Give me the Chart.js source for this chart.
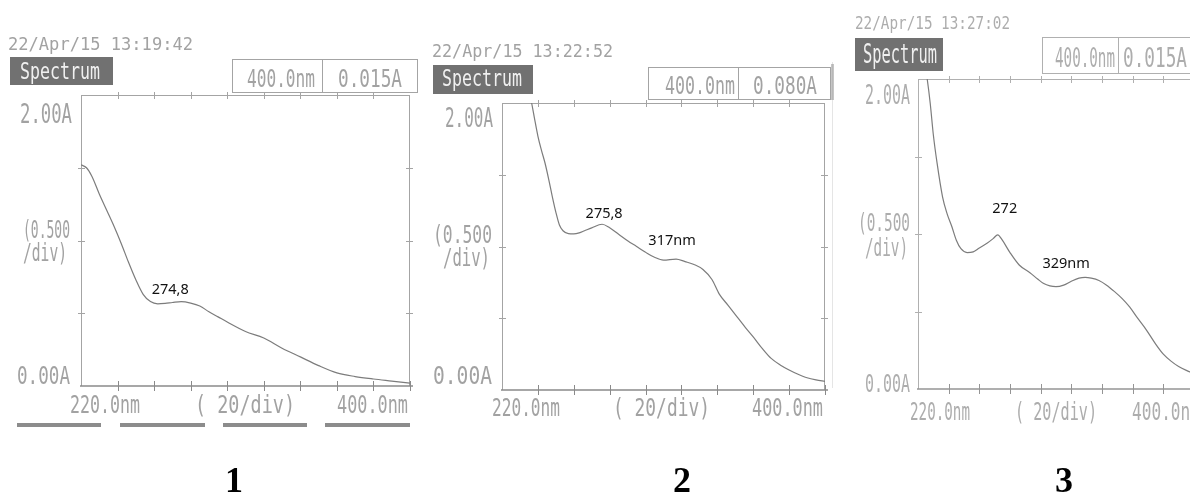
<!DOCTYPE html>
<html>
<head>
<meta charset="utf-8">
<script src="https://cdn.jsdelivr.net/npm/chart.js@4.4.1/dist/chart.umd.min.js"></script>
<style>
  html, body { margin: 0; padding: 0; background: #fff; width: 1190px; height: 493px; overflow: hidden; }
  canvas { position: absolute; left: 0; top: 0; }
</style>
</head>
<body>
<canvas id="c1" width="1200" height="493"></canvas>
<canvas id="c2" width="1200" height="493"></canvas>
<canvas id="c3" width="1200" height="493"></canvas>
<script>
// ---- UV-Vis absorption spectra, 220-400 nm ----

// Sample 1
const wavelength1 = [220, 223, 226, 230, 234, 238, 242, 246, 250, 254, 258, 262, 266, 270, 274.8, 280, 285, 290, 295, 300, 310, 320, 330, 340, 350, 360, 370, 380, 390, 400];
const absorbance1 = [1.52, 1.50, 1.44, 1.32, 1.21, 1.10, 0.98, 0.85, 0.73, 0.63, 0.58, 0.565, 0.568, 0.574, 0.58, 0.57, 0.55, 0.51, 0.475, 0.44, 0.375, 0.33, 0.26, 0.20, 0.14, 0.09, 0.065, 0.048, 0.034, 0.02];

// Sample 2
const wavelength2 = [235, 236.5, 238, 240, 242, 244, 246, 248, 250, 252, 254, 257, 260, 263, 266, 270, 275.8, 280, 285, 290, 295, 300, 305, 310, 317, 322, 327, 332, 337, 341, 346, 351, 356, 360, 365, 370, 375, 380, 385, 390, 395, 400];
const absorbance2 = [2.08, 2.0, 1.9, 1.77, 1.67, 1.58, 1.47, 1.35, 1.24, 1.15, 1.11, 1.09, 1.088, 1.095, 1.11, 1.13, 1.155, 1.13, 1.085, 1.04, 1.0, 0.96, 0.925, 0.905, 0.912, 0.895, 0.875, 0.84, 0.77, 0.67, 0.59, 0.51, 0.43, 0.37, 0.29, 0.22, 0.175, 0.14, 0.11, 0.085, 0.07, 0.06];

// Sample 3
const wavelength3 = [224, 226, 228, 230, 232.4, 236, 239, 242, 245, 248, 252, 256, 260, 265, 269, 272, 275, 280, 286, 293, 298, 302, 306, 310, 315, 320, 325, 329, 333, 338, 343, 348, 353, 358, 363, 369, 375, 380, 385, 390, 395, 400];
const absorbance3 = [2.12, 2.0, 1.84, 1.64, 1.46, 1.24, 1.13, 1.05, 0.96, 0.905, 0.88, 0.885, 0.91, 0.94, 0.97, 0.995, 0.96, 0.88, 0.80, 0.75, 0.71, 0.68, 0.665, 0.66, 0.67, 0.695, 0.715, 0.72, 0.715, 0.70, 0.67, 0.63, 0.585, 0.53, 0.46, 0.38, 0.29, 0.225, 0.18, 0.145, 0.12, 0.10];

// Marked peak wavelengths and their labels
const peaksNm1 = [274.8];
const peakLabels1 = ['274,8'];
const peaksNm2 = [275.8, 317];
const peakLabels2 = ['275,8', '317nm'];
const peaksNm3 = [272, 329];
const peakLabels3 = ['272', '329nm'];

// Axis divisions
const xDivisionsNm = [240, 260, 280, 300, 320, 340, 360, 380, 400];
const yDivisionsA = [0.5, 1.0, 1.5];

// Printed header / axis texts
const timeStamps = ['22/Apr/15 13:19:42', '22/Apr/15 13:22:52', '22/Apr/15 13:27:02'];
const modeTitle = 'Spectrum';
const cursorNm = ['400.0nm', '400.0nm', '400.0nm'];
const cursorAbs = ['0.015A', '0.080A', '0.015A'];
const yTopLabel = '2.00A';
const yBottomLabel = '0.00A';
const yScaleLabel = ['(0.500', '/div)'];
const xStartLabel = '220.0nm';
const xScaleLabel = '( 20/div)';
const xEndLabel = '400.0nm';
const panelCaptions = ['1', '2', '3'];

// Page layout of each printout
const layouts = {
  c1: {
    area: { left: 81, top: 95, right: 410, bottom: 386 },
    ink: '#a2a2a2', frame: '#a4a4a4', axis: '#8a8a8a', rightBorder: true,
    date: { x0: 8, x1: 193, base: 50, size: 16 },
    specBox: { x: 10, y: 57, w: 103, h: 28 }, specText: { x0: 20, x1: 100, base: 79, size: 20 },
    valBox: { x: 232, y: 59, w: 185, h: 33, div: 322 },
    nmText: { x0: 247, x1: 315, base: 87, size: 22 }, absText: { x0: 338, x1: 402, base: 87, size: 22 },
    yTop: { x0: 20, x1: 72, base: 123 }, yDiv1: { x0: 23, x1: 70, base: 238 }, yDiv2: { x0: 23, x1: 67, base: 261 },
    yZero: { x0: 17, x1: 70, base: 384 },
    xLeft: { x0: 70, x1: 140, base: 413 }, xDiv: { x0: 195, x1: 295, base: 413 }, xRight: { x0: 337, x1: 408, base: 413 },
    bars: [[17, 101], [120, 205], [223, 307], [325, 410]], barY: 423,
    notes: [{ dx: -11, dy: -12 }],
    caption: { x: 234, base: 492 }
  },
  c2: {
    area: { left: 502, top: 103, right: 825, bottom: 390 },
    ink: '#a2a2a2', frame: '#a4a4a4', axis: '#8a8a8a', rightBorder: true,
    date: { x0: 432, x1: 613, base: 57, size: 16 },
    specBox: { x: 433, y: 65, w: 100, h: 29 }, specText: { x0: 442, x1: 522, base: 86, size: 20 },
    valBox: { x: 648, y: 67, w: 182, h: 32, div: 738 },
    nmText: { x0: 665, x1: 735, base: 94, size: 22 }, absText: { x0: 753, x1: 817, base: 94, size: 22 },
    yTop: { x0: 445, x1: 493, base: 127 }, yDiv1: { x0: 433, x1: 492, base: 243 }, yDiv2: { x0: 443, x1: 490, base: 266 },
    yZero: { x0: 433, x1: 492, base: 384 },
    xLeft: { x0: 492, x1: 560, base: 416 }, xDiv: { x0: 613, x1: 710, base: 416 }, xRight: { x0: 752, x1: 823, base: 416 },
    bars: [], barY: 0,
    notes: [{ dx: 2, dy: -10 }, { dx: -4, dy: -18 }],
    caption: { x: 682, base: 492 }
  },
  c3: {
    area: { left: 918, top: 79, right: 1194, bottom: 389 },
    ink: '#adadad', frame: '#b0b0b0', axis: '#959595', rightBorder: false,
    date: { x0: 855, x1: 1010, base: 29, size: 16 },
    specBox: { x: 855, y: 38, w: 88, h: 33 }, specText: { x0: 863, x1: 937, base: 63, size: 23 },
    valBox: { x: 1042, y: 37, w: 170, h: 36, div: 1118 },
    nmText: { x0: 1055, x1: 1115, base: 67, size: 23 }, absText: { x0: 1123, x1: 1187, base: 67, size: 23 },
    yTop: { x0: 865, x1: 910, base: 104 }, yDiv1: { x0: 858, x1: 910, base: 231 }, yDiv2: { x0: 865, x1: 908, base: 256 },
    yZero: { x0: 865, x1: 910, base: 392 },
    xLeft: { x0: 910, x1: 970, base: 420 }, xDiv: { x0: 1015, x1: 1097, base: 420 }, xRight: { x0: 1132, x1: 1200, base: 420 },
    bars: [], barY: 0,
    notes: [{ dx: 7, dy: -26 }, { dx: -19, dy: -14 }],
    caption: { x: 1064, base: 492 },
    edge: { x: 832, y0: 62, y1: 388 }
  }
};

const MONO = '"DejaVu Sans Mono", "Liberation Mono", monospace';

// Printer-style text: fitted horizontally to x0..x1 and stretched vertically
function fitText(ctx, text, spec, size, color, stretchY) {
  ctx.save();
  ctx.font = size + 'px ' + MONO;
  ctx.fillStyle = color;
  ctx.textBaseline = 'alphabetic';
  ctx.textAlign = 'left';
  const w = ctx.measureText(text).width;
  ctx.translate(spec.x0, spec.base);
  ctx.scale((spec.x1 - spec.x0) / w, stretchY || 1);
  ctx.fillText(text, 0, 0);
  ctx.restore();
}

function seg(ctx, x0, y0, x1, y1) {
  ctx.beginPath();
  ctx.moveTo(x0, y0);
  ctx.lineTo(x1, y1);
  ctx.stroke();
}

const printoutPlugin = {
  id: 'printout',
  beforeDatasetsDraw(chart) {
    const L = layouts[chart.canvas.id];
    const ctx = chart.ctx;
    const { left, right, top, bottom } = chart.chartArea;
    const xs = chart.scales.x, ys = chart.scales.y;
    ctx.save();
    ctx.lineWidth = 1;
    ctx.strokeStyle = L.frame;
    // frame
    seg(ctx, left, top + 0.5, right, top + 0.5);
    seg(ctx, left + 0.5, top, left + 0.5, bottom);
    if (L.rightBorder) seg(ctx, right - 0.5, top, right - 0.5, bottom);
    // division marks on top edge
    xDivisionsNm.forEach(nm => {
      const x = Math.round(xs.getPixelForValue(nm)) + 0.5;
      if (nm < 400) seg(ctx, x, top - 3, x, top + 4);
    });
    // division marks on vertical edges
    yDivisionsA.forEach(a => {
      const y = Math.round(ys.getPixelForValue(a)) + 0.5;
      seg(ctx, left - 3, y, left + 4, y);
      if (L.rightBorder) seg(ctx, right - 4, y, right + 3, y);
    });
    // baseline axis with crossing marks
    ctx.strokeStyle = L.axis;
    ctx.lineWidth = 1.6;
    seg(ctx, left - 1, bottom, right + 3, bottom);
    ctx.lineWidth = 1;
    xDivisionsNm.forEach(nm => {
      const x = Math.round(xs.getPixelForValue(nm)) + 0.5;
      seg(ctx, x, bottom - 5, x, bottom + 5);
    });
    if (L.edge) {
      ctx.strokeStyle = 'rgba(160,160,160,0.28)';
      seg(ctx, L.edge.x + 0.5, L.edge.y0, L.edge.x + 0.5, L.edge.y1);
      ctx.fillStyle = 'rgba(140,140,140,0.5)';
      ctx.fillRect(L.edge.x - 1, 64, 3, 36);
    }
    ctx.restore();
  },
  afterDatasetsDraw(chart) {
    const id = chart.canvas.id;
    const L = layouts[id];
    const idx = { c1: 0, c2: 1, c3: 2 }[id];
    const ctx = chart.ctx;
    const xs = chart.scales.x, ys = chart.scales.y;
    ctx.save();

    // header
    fitText(ctx, timeStamps[idx], L.date, L.date.size, L.ink, 1.05);
    const sb = L.specBox;
    ctx.fillStyle = '#717171';
    ctx.fillRect(sb.x, sb.y, sb.w, sb.h);
    fitText(ctx, modeTitle, L.specText, L.specText.size, '#f0f0f0', 1.12);
    const vb = L.valBox;
    ctx.strokeStyle = L.frame;
    ctx.lineWidth = 1;
    ctx.strokeRect(vb.x + 0.5, vb.y + 0.5, vb.w, vb.h);
    seg(ctx, vb.div + 0.5, vb.y, vb.div + 0.5, vb.y + vb.h);
    fitText(ctx, cursorNm[idx], L.nmText, L.nmText.size, L.ink, 1.12);
    fitText(ctx, cursorAbs[idx], L.absText, L.absText.size, L.ink, 1.12);

    // axis texts
    fitText(ctx, yTopLabel, L.yTop, 23, L.ink, 1.15);
    fitText(ctx, yScaleLabel[0], L.yDiv1, 23, L.ink, 1.1);
    fitText(ctx, yScaleLabel[1], L.yDiv2, 23, L.ink, 1.1);
    fitText(ctx, yBottomLabel, L.yZero, 23, L.ink, 1.1);
    fitText(ctx, xStartLabel, L.xLeft, 23, L.ink, 1.1);
    fitText(ctx, xScaleLabel, L.xDiv, 23, L.ink, 1.1);
    fitText(ctx, xEndLabel, L.xRight, 23, L.ink, 1.1);

    // menu bars under the printout
    ctx.fillStyle = '#8c8c8c';
    L.bars.forEach(b => ctx.fillRect(b[0], L.barY, b[1] - b[0], 4));

    // peak labels, placed from the curve values at those wavelengths
    const wl = [wavelength1, wavelength2, wavelength3][idx];
    const ab = [absorbance1, absorbance2, absorbance3][idx];
    const peaks = [peaksNm1, peaksNm2, peaksNm3][idx];
    const labels = [peakLabels1, peakLabels2, peakLabels3][idx];
    ctx.fillStyle = '#111';
    ctx.font = '14.5px "Noto Sans", "Open Sans", sans-serif';
    ctx.textAlign = 'center';
    ctx.textBaseline = 'middle';
    peaks.forEach((nm, i) => {
      const a = ab[wl.indexOf(nm)];
      const x = xs.getPixelForValue(nm) + L.notes[i].dx;
      const y = ys.getPixelForValue(a) + L.notes[i].dy;
      ctx.fillText(labels[i], x, y);
    });

    // sample number
    ctx.font = 'bold 36px "Liberation Serif", "Times New Roman", serif';
    ctx.textBaseline = 'alphabetic';
    ctx.fillStyle = '#000';
    ctx.fillText(panelCaptions[idx], L.caption.x, L.caption.base);
    ctx.restore();
  }
};

function makeSpectrum(canvasId, wl, ab) {
  const a = layouts[canvasId].area;
  const cv = document.getElementById(canvasId);
  return new Chart(cv, {
    type: 'line',
    data: {
      datasets: [{
        data: wl.map((x, i) => ({ x: x, y: ab[i] })),
        borderColor: '#7c7c7c',
        borderWidth: 1.2,
        pointRadius: 0,
        fill: false,
        cubicInterpolationMode: 'monotone'
      }]
    },
    options: {
      responsive: false,
      animation: false,
      events: [],
      layout: {
        padding: { left: a.left, top: a.top, right: cv.width - a.right, bottom: cv.height - a.bottom }
      },
      plugins: { legend: { display: false }, tooltip: { enabled: false } },
      scales: {
        x: { type: 'linear', min: 220, max: 400, display: false },
        y: { type: 'linear', min: 0, max: 2, display: false }
      }
    },
    plugins: [printoutPlugin]
  });
}

makeSpectrum('c1', wavelength1, absorbance1);
makeSpectrum('c2', wavelength2, absorbance2);
makeSpectrum('c3', wavelength3, absorbance3);
</script>
</body>
</html>
